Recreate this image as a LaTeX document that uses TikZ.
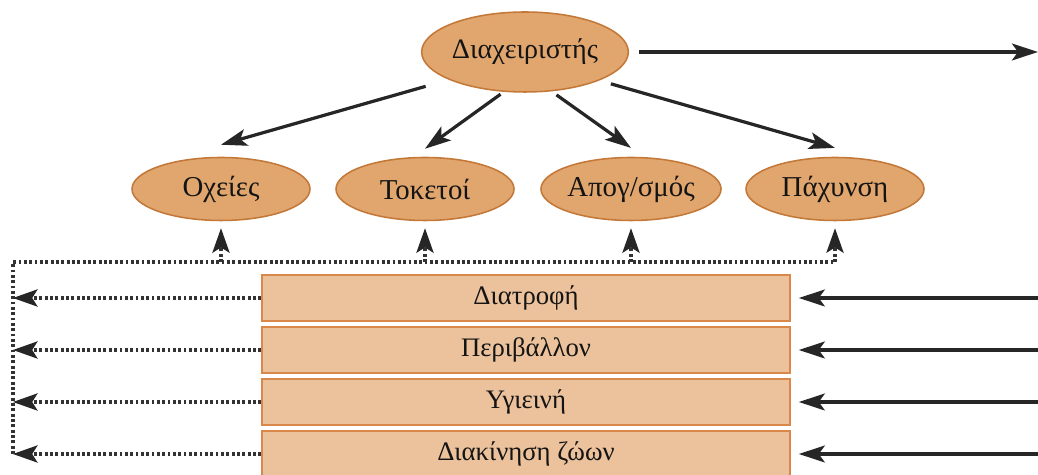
\documentclass[tikz,border=0pt]{standalone}
\usepackage{fontspec}
\setmainfont{Liberation Serif}
\usepackage{tikz}
\usetikzlibrary{calc, arrows.meta, shapes.geometric}

\definecolor{taskfill}{RGB}{224,166,110}
\definecolor{taskline}{RGB}{196,120,56}
\definecolor{factfill}{RGB}{236,194,156}
\definecolor{factline}{RGB}{218,136,74}

\begin{document}
\begin{tikzpicture}[
        task/.style={draw=taskline, line width=1.1pt, fill=taskfill, ellipse, inner sep=0pt,
            minimum width=4.45cm, minimum height=1.575cm, text=black!92, font=\fontsize{20.5}{24}\selectfont},
        factor/.style={draw=factline, line width=1.1pt, fill=factfill, inner sep=0pt,
            minimum width=13.2cm, minimum height=1.15cm, text=black!92, font=\fontsize{19}{22}\selectfont},
        flow/.style={draw=black!85, line width=2.3pt, arrows={-Stealth[length=0.65cm, width=0.42cm, inset=0.15cm]}},
        feed/.style={draw=black!80, line width=2.4pt, dash pattern=on 2pt off 1.8pt},
        feedtip/.style={feed, arrows={-Stealth[length=0.62cm, width=0.44cm, inset=0.14cm, line width=0pt, fill=black!85]}}
    ]
        \useasboundingbox (0, 0) rectangle (25.95, 11.875);
        \coordinate (bus) at (0.325, 5.325);
        \coordinate (rim) at (25.95, 0);
        \node [task, minimum width=5.1cm, minimum height=2cm, font=\fontsize{20}{24}\selectfont] (mgr) at (13.125, 10.575) {Διαχειριστής};
        \node [task] (mating) at (5.525, 7.15) {Οχείες};
        \node [task] (birth) at (10.625, 7.15) {Τοκετοί};
        \node [task] (wean) at (15.775, 7.15) {Απογ/σμός};
        \node [task] (fatten) at (20.875, 7.15) {Πάχυνση};
        \node [factor] (diet) at (13.15, 4.425) {Διατροφή};
        \node [factor] (env) at (13.15, 3.125) {Περιβάλλον};
        \node [factor] (hyg) at (13.15, 1.825) {Υγιεινή};
        \node [factor] (move) at (13.15, 0.525) {Διακίνηση ζώων};
        \draw [flow, shorten <=0.25cm] (mgr.east) -- (mgr.east -| rim);
        \draw [flow, shorten <=0.6cm] (mgr.200) -- ([yshift=0.3cm]mating.north);
        \draw [flow, shorten <=0.1cm] (mgr.242) -- ([yshift=0.2cm]birth.north);
        \draw [flow, shorten <=0.15cm] (mgr.304) -- ([yshift=0.22cm]wean.north);
        \draw [flow, shorten <=0.3cm] (mgr.339) -- ([yshift=0.22cm]fatten.north);
        \foreach \f in {diet, env, hyg, move} {
            \draw [flow, shorten >=0.2cm] (rim |- \f.east) -- (\f.east);
            \draw [feedtip] (\f.west) -- (\f.west -| bus);
        }
        \draw [feed] (move.west -| bus) -- (bus) -- (fatten.south |- bus);
        \foreach \t in {mating, birth, wean, fatten}
            \draw [feedtip, shorten >=0.175cm] (\t.south |- bus) -- (\t.south);
    \end{tikzpicture}
\end{document}
